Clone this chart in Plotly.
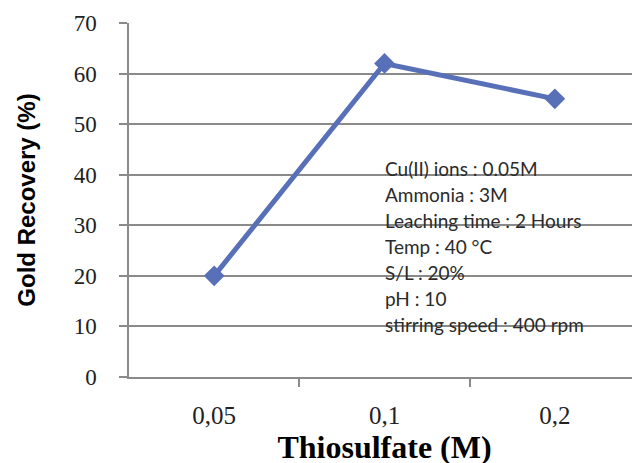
import plotly.graph_objects as go

categories = ["0,05", "0,1", "0,2"]
recovery = [20, 62, 55]
y_ticks = [0, 10, 20, 30, 40, 50, 60, 70]
notes = [
    "Cu(II) ions : 0.05M",
    "Ammonia : 3M",
    "Leaching time : 2 Hours",
    "Temp : 40 °C",
    "S/L : 20%",
    "pH : 10",
    "stirring speed : 400 rpm",
]

fig = go.Figure()
fig.add_trace(go.Scatter(
    x=[0, 1, 2], y=recovery, mode="lines+markers",
    line=dict(color="#5870B8", width=5),
    marker=dict(symbol="diamond", size=16, color="#5870B8"),
    showlegend=False,
))

for i, t in enumerate(notes):
    fig.add_annotation(
        x=0, y=1, xref="paper", yref="paper",
        text=t, showarrow=False, xanchor="left", yanchor="middle",
        xshift=254, yshift=-145 - 26 * i,
        font=dict(family="Lato", size=19, color="#2a2a2a"),
    )

fig.update_layout(
    width=640, height=463,
    margin=dict(l=121, r=8, t=15, b=94),
    paper_bgcolor="white", plot_bgcolor="white",
    xaxis=dict(
        range=[-0.5, 2.5], automargin=False,
        tickvals=[0, 1, 2], ticktext=categories,
        showgrid=False, zeroline=False,
        showline=True, linecolor="#8a8a8a", linewidth=1.5,
        ticks="", ticklabelstandoff=15,
        tickfont=dict(family="Liberation Serif", size=25, color="#222"),
        title=dict(text="<b>Thiosulfate (M)</b>", standoff=0,
                   font=dict(family="Liberation Serif", size=32, color="#000")),
        minor=dict(tickvals=[0.5, 1.5], ticks="outside", ticklen=8,
                   tickcolor="#8a8a8a", tickwidth=1.5, showgrid=False),
    ),
    yaxis=dict(
        range=[0, 70], tickvals=y_ticks, automargin=False,
        showgrid=True, gridcolor="#8a8a8a", gridwidth=1.5,
        zeroline=False,
        showline=True, linecolor="#8a8a8a", linewidth=1.5,
        ticks="outside", ticklen=8, tickcolor="#8a8a8a", tickwidth=1.5,
        ticklabelstandoff=18,
        tickfont=dict(family="Liberation Serif", size=23, color="#222"),
        title=dict(text="<b>Gold Recovery (%)</b>", standoff=31,
                   font=dict(family="Liberation Sans", size=24, color="#000")),
    ),
)

fig.write_html("out.html")
